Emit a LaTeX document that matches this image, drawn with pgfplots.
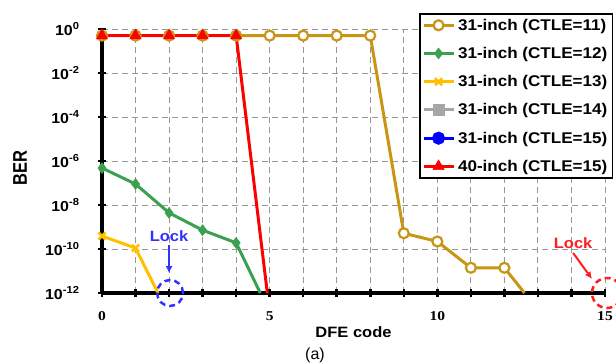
\documentclass[border=0pt]{standalone}
\usepackage{fontspec}
\setmainfont{Liberation Sans}[FakeStretch=1.1]
\newfontfamily\serifb{Liberation Serif}[FakeStretch=1.15]
\newfontfamily\plainsans{Liberation Sans}
\usepackage{pgfplots}
\pgfplotsset{compat=1.18}
\usetikzlibrary{arrows.meta}
\definecolor{cgold}{RGB}{200,150,20}
\definecolor{cgreen}{RGB}{60,160,80}
\definecolor{cyellow}{RGB}{255,192,0}
\definecolor{cgray}{RGB}{166,166,166}
\definecolor{cblue}{RGB}{0,0,255}
\definecolor{cred}{RGB}{255,0,0}
\definecolor{lockblue}{RGB}{50,50,255}
\definecolor{lockred}{RGB}{255,30,30}
\definecolor{gridgray}{RGB}{150,150,150}
\begin{document}
\begin{tikzpicture}
\begin{axis}[
  scale only axis, width=503bp, height=264bp,
  ymode=log, xmin=0, xmax=15, ymin=1e-12, ymax=1,
  clip=false,
  axis lines*=left,
  axis line style={line width=3.5bp, black, -},
  xtick={0,1,...,15},
  xticklabels={0,,,,,5,,,,,10,,,,,15},
  ytick={1,1e-2,1e-4,1e-6,1e-8,1e-10,1e-12},
  yticklabels={10\textsuperscript{0},10\textsuperscript{-2},10\textsuperscript{-4},10\textsuperscript{-6},10\textsuperscript{-8},10\textsuperscript{-10},10\textsuperscript{-12}},
  yminorticks=false, xminorticks=false,
  grid=major,
  major grid style={gridgray, line width=0.9bp, dash pattern=on 6bp off 4bp},
  tick align=center,
  major tick length=8bp,
  tick style={black, line width=2.5bp},
  xticklabel style={font=\serifb\bfseries\fontsize{13.5bp}{15bp}\selectfont, yshift=-11bp},
  yticklabel style={font=\bfseries\fontsize{14.5bp}{16bp}\selectfont, xshift=-15bp},
  xlabel={DFE code},
  xlabel style={font=\bfseries\fontsize{15bp}{17bp}\selectfont, at={(axis description cs:0.5,-0.1667)}, anchor=base},
  ylabel={\scalebox{1}[1.2]{BER}},
  ylabel style={font=\plainsans\bfseries\fontsize{16.5bp}{18bp}\selectfont, at={(axis description cs:-0.163,0.473)}, anchor=center},
  legend style={at={(rel axis cs:1.016,1.06)}, anchor=north east, draw=black, line width=1.5bp, fill=white,
    font=\bfseries\fontsize{15.5bp}{17bp}\selectfont, row sep=9.5bp, inner sep=2bp,
    nodes={inner sep=3bp}},
  legend cell align=left,
  legend image code/.code={\draw[mark repeat=2,mark phase=2] plot coordinates {(0bp,0bp) (15bp,0bp) (30bp,0bp)};},
]
% drop-off segments (no markers)
\addplot[cgold, line width=3bp, forget plot] coordinates {(12,1.4e-11) (12.6,1e-12)};
\addplot[cgreen, line width=3bp, forget plot] coordinates {(4,1.9e-10) (4.72,1e-12)};
\addplot[cyellow, line width=3bp, forget plot] coordinates {(1,1.1e-10) (1.67,1e-12)};
\addplot[cred, line width=3bp, forget plot] coordinates {(4,0.5) (4.93,1e-12)};
% series
\addplot[cgold, line width=3bp, mark=*, mark size=5bp, mark options={fill=white, line width=2.2bp}]
  coordinates {(0,0.5) (1,0.5) (2,0.5) (3,0.5) (4,0.5) (5,0.5) (6,0.5) (7,0.5) (8,0.5)
  (9,5.2e-10) (10,2.2e-10) (11,1.4e-11) (12,1.4e-11)};
\addlegendentry{31-inch (CTLE=11)}
\addplot[cgreen, line width=3bp, mark=diamond*, mark size=5.5bp, mark options={line width=0.5bp}]
  coordinates {(0,4.8e-7) (1,9e-8) (2,4.4e-9) (3,7.2e-10) (4,1.9e-10)};
\addlegendentry{31-inch (CTLE=12)}
\addplot[cyellow, line width=3bp, mark=x, mark size=5bp, mark options={line width=2.5bp}]
  coordinates {(0,3.9e-10) (1,1.1e-10)};
\addlegendentry{31-inch (CTLE=13)}
\addlegendimage{cgray, line width=3bp, mark=square*, mark size=4.5bp}
\addlegendentry{31-inch (CTLE=14)}
\addlegendimage{cblue, line width=3bp, mark=*, mark size=5bp}
\addlegendentry{31-inch (CTLE=15)}
\addplot[cred, line width=3bp, mark=triangle*, mark size=6.5bp, mark options={line width=0.5bp}]
  coordinates {(0,0.5) (1,0.5) (2,0.5) (3,0.5) (4,0.5)};
\addlegendentry{40-inch (CTLE=15)}
% annotations
\node[text=lockblue, font=\bfseries\fontsize{15bp}{17bp}\selectfont] at (axis cs:2,3.9e-10) {Lock};
\draw[-{Latex[length=7bp,width=7bp]}, lockblue, line width=2bp] (axis cs:2,1.5e-10) -- (axis cs:2,8e-12);
\draw[lockblue, line width=2.5bp, dash pattern=on 6bp off 4bp] (axis cs:2.03,1e-12) ellipse [x radius=13bp, y radius=13bp];
\node[text=lockred, font=\bfseries\fontsize{15bp}{17bp}\selectfont] at (axis cs:14.05,1.9e-10) {Lock};
\draw[-{Latex[length=7bp,width=7bp]}, lockred, line width=2bp] (axis cs:14.05,6.6e-11) -- (axis cs:14.61,4.4e-12);
\draw[lockred, line width=2.5bp, dash pattern=on 6bp off 4bp] (axis cs:15.06,1e-12) ellipse [x radius=15bp, y radius=15bp];
\node[anchor=base, font=\plainsans\fontsize{16bp}{18bp}\selectfont] at (rel axis cs:0.4235,-0.25) {(a)};
\coordinate (O) at (rel axis cs:0,0);
\end{axis}
\pgfresetboundingbox
\path[use as bounding box] ([shift={(-102bp,-71bp)}]O) rectangle ([shift={(514bp,293bp)}]O);
\end{tikzpicture}
\end{document}
